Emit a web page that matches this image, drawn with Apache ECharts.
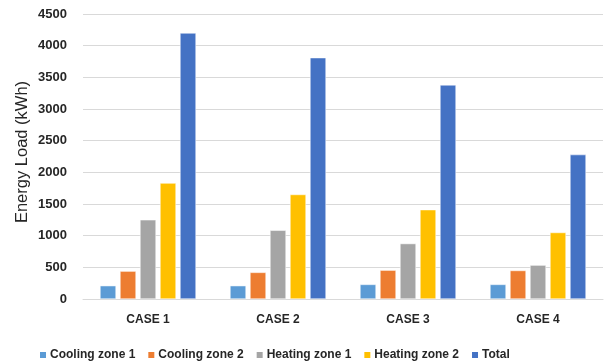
<!DOCTYPE html>
<html><head><meta charset="utf-8">
<script src="https://cdn.jsdelivr.net/npm/echarts@6/dist/echarts.min.js"></script>
<style>html,body{margin:0;padding:0;background:#fff}#c{width:604px;height:362px}</style>
</head><body><div id="c"></div>
<script>
const categories = ['CASE 1', 'CASE 2', 'CASE 3', 'CASE 4'];
const seriesNames = ['Cooling zone 1', 'Cooling zone 2', 'Heating zone 1', 'Heating zone 2', 'Total'];
const coolingZone1 = [210, 210, 230, 230];
const coolingZone2 = [440, 420, 455, 450];
const heatingZone1 = [1250, 1085, 875, 535];
const heatingZone2 = [1830, 1650, 1410, 1050];
const total = [4200, 3810, 3380, 2280];
const colors = ['#5B9BD5', '#ED7D31', '#A5A5A5', '#FFC000', '#4472C4'];
const values = [coolingZone1, coolingZone2, heatingZone1, heatingZone2, total];

const chart = echarts.init(document.getElementById('c'));
chart.setOption({
  animation: false,
  textStyle: { fontFamily: 'Liberation Sans' },
  grid: { left: 83, right: 1, top: 14, bottom: 63 },
  legend: {
    data: seriesNames,
    left: 33, top: 344,
    itemWidth: 8, itemHeight: 8, itemGap: 11,
    icon: 'rect',
    textStyle: { fontSize: 12, fontWeight: 'bold', color: '#262626', padding: [0,0,0,-2] }
  },
  xAxis: {
    type: 'category', data: categories,
    axisLine: { lineStyle: { color: '#d9d9d9' } },
    axisTick: { show: false },
    axisLabel: { fontSize: 12, fontWeight: 'bold', color: '#262626', margin: 15 }
  },
  yAxis: {
    type: 'value', min: 0, max: 4500, interval: 500,
    name: 'Energy Load (kWh)', nameLocation: 'middle', nameGap: 52, nameMoveOverlap: false,
    nameTextStyle: { fontSize: 16.5, color: '#262626', padding: [0, 0, 0, 9] },
    axisLine: { show: false }, axisTick: { show: false },
    axisLabel: { fontSize: 13, fontWeight: 'bold', color: '#262626', margin: 16, formatter: v => String(v) },
    splitLine: { lineStyle: { color: '#d9d9d9' } }
  },
  series: seriesNames.map((n, i) => ({
    name: n, type: 'bar', data: values[i],
    barWidth: 16, barGap: '25%', barCategoryGap: '26%',
    itemStyle: { color: colors[i], borderColor: '#ffffff', borderWidth: 0.5 }
  }))
});
</script></body></html>
